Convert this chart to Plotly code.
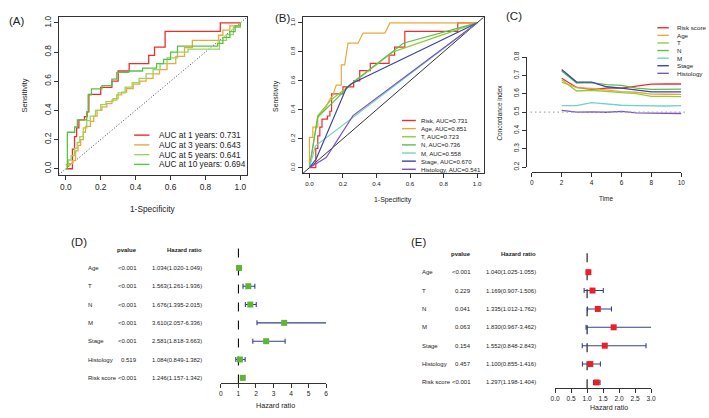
import plotly.graph_objects as go

W, H = 709, 418


def fx(p):
    return p / W


def fy(p):
    return 1 - p / H


FONT = "Liberation Sans, Arial, sans-serif"
TXT = "#222222"

# ---------------- Panel A : time-dependent ROC (step curves) ----------------
roc_1y_fpr = [0, 0.038, 0.05, 0.062, 0.075, 0.107, 0.122, 0.132, 0.2, 0.264, 0.3, 0.363, 0.475, 0.508, 0.569, 0.885, 1.0]
roc_1y_tpr = [0, 0.134, 0.22, 0.28, 0.335, 0.357, 0.39, 0.51, 0.558, 0.6, 0.67, 0.72, 0.777, 0.833, 0.942, 1.0, 1.0]

roc_3y_fpr = [0, 0.02, 0.038, 0.056, 0.07, 0.085, 0.1, 0.113, 0.141, 0.16, 0.179, 0.207, 0.235, 0.264, 0.292,
              0.32, 0.348, 0.386, 0.424, 0.46, 0.5, 0.537, 0.58, 0.63, 0.68, 0.725, 0.876, 0.9, 0.94, 1.0]
roc_3y_tpr = [0.02, 0.035, 0.056, 0.123, 0.16, 0.2, 0.25, 0.29, 0.324, 0.36, 0.4, 0.424, 0.446, 0.47, 0.507,
              0.525, 0.55, 0.58, 0.6, 0.62, 0.65, 0.68, 0.72, 0.77, 0.83, 0.88, 0.915, 0.95, 0.98, 1.0]

roc_5y_fpr = [0, 0.015, 0.03, 0.05, 0.065, 0.08, 0.1, 0.12, 0.14, 0.17, 0.2, 0.23, 0.27, 0.3, 0.34, 0.38,
              0.42, 0.46, 0.5, 0.54, 0.58, 0.64, 0.7, 0.88, 0.92, 0.96, 1.0]
roc_5y_tpr = [0.03, 0.06, 0.09, 0.14, 0.18, 0.22, 0.28, 0.33, 0.36, 0.4, 0.44, 0.46, 0.48, 0.52, 0.56, 0.59,
              0.62, 0.65, 0.68, 0.72, 0.76, 0.8, 0.82, 0.88, 0.92, 0.97, 1.0]

roc_10y_fpr = [0, 0.009, 0.051, 0.066, 0.12, 0.128, 0.147, 0.207, 0.264, 0.292, 0.36, 0.44, 0.52, 0.56, 0.6,
               0.64, 0.87, 0.9, 0.94, 0.97, 1.0]
roc_10y_tpr = [0, 0.25, 0.286, 0.335, 0.39, 0.507, 0.547, 0.57, 0.614, 0.66, 0.67, 0.69, 0.72, 0.75, 0.8,
               0.84, 0.86, 0.9, 0.94, 0.98, 1.0]

a_labels = ["AUC at 1 years: 0.731", "AUC at 3 years: 0.643", "AUC at 5 years: 0.641", "AUC at 10 years: 0.694"]
a_colors = ["#EE2C2C", "#EBA83A", "#9BD35F", "#57C245"]

# ---------------- Panel B : ROC of clinical factors ----------------
risk_fpr = roc_1y_fpr
risk_tpr = roc_1y_tpr
age_fpr = [0, 0, 0.02, 0.02, 0.05, 0.05, 0.1, 0.12, 0.14, 0.16, 0.19, 0.19, 0.21, 0.22, 0.23, 0.29, 0.32, 0.45, 0.48, 1.0]
age_tpr = [0, 0.21, 0.21, 0.28, 0.28, 0.35, 0.42, 0.47, 0.5, 0.57, 0.57, 0.71, 0.71, 0.78, 0.86, 0.86, 0.93, 0.93, 1.0, 1.0]
t_fpr = [0, 0.05, 0.13, 0.5, 1.0]
t_tpr = [0, 0.36, 0.47, 0.8, 1.0]
n_fpr = [0, 0.05, 0.27, 0.56, 1.0]
n_tpr = [0, 0.35, 0.6, 0.86, 1.0]
m_fpr = [0, 0.035, 1.0]
m_tpr = [0, 0.15, 1.0]
stage_fpr = [0, 0.04, 0.22, 0.25, 1.0]
stage_tpr = [0, 0.06, 0.55, 0.58, 1.0]
hist_fpr = [0, 0.1, 0.26, 1.0]
hist_tpr = [0, 0.07, 0.36, 1.0]

b_labels = ["Risk, AUC=0.731", "Age, AUC=0.851", "T, AUC=0.723", "N, AUC=0.736", "M, AUC=0.558",
            "Stage, AUC=0.670", "Histology, AUC=0.541"]
b_colors = ["#EE2C2C", "#EBA83A", "#8CCF3E", "#5FBE4C", "#72D3C4", "#3A46A6", "#7C52C6"]

# ---------------- Panel C : concordance index over time ----------------
c_time = [2, 3, 4, 5, 6, 7, 8, 9, 10]
c_risk = [0.684, 0.634, 0.624, 0.630, 0.631, 0.641, 0.652, 0.653, 0.653]
c_age = [0.663, 0.633, 0.629, 0.620, 0.611, 0.608, 0.598, 0.597, 0.596]
c_t = [0.676, 0.615, 0.619, 0.611, 0.606, 0.601, 0.585, 0.585, 0.584]
c_n = [0.724, 0.658, 0.661, 0.650, 0.646, 0.630, 0.624, 0.624, 0.625]
c_m = [0.535, 0.535, 0.551, 0.543, 0.537, 0.535, 0.533, 0.533, 0.535]
c_stage = [0.732, 0.664, 0.663, 0.638, 0.631, 0.620, 0.610, 0.610, 0.610]
c_hist = [0.509, 0.500, 0.501, 0.499, 0.504, 0.496, 0.494, 0.494, 0.492]
c_labels = ["Risk score", "Age", "T", "N", "M", "Stage", "Histology"]
c_colors = b_colors
c_ref = 0.5

# ---------------- Panels D / E : forest plots ----------------
f_labels = ["Age", "T", "N", "M", "Stage", "Histology", "Risk score"]
uni_p = ["<0.001", "<0.001", "<0.001", "<0.001", "<0.001", "0.519", "<0.001"]
uni_hr = [1.034, 1.563, 1.676, 3.610, 2.581, 1.084, 1.246]
uni_lo = [1.020, 1.261, 1.395, 2.057, 1.818, 0.849, 1.157]
uni_hi = [1.049, 1.936, 2.015, 6.336, 3.663, 1.382, 1.342]

multi_p = ["<0.001", "0.229", "0.041", "0.063", "0.154", "0.457", "<0.001"]
multi_hr = [1.040, 1.169, 1.335, 1.830, 1.552, 1.100, 1.297]
multi_lo = [1.025, 0.907, 1.012, 0.967, 0.848, 0.855, 1.198]
multi_hi = [1.055, 1.506, 1.762, 3.462, 2.843, 1.416, 1.404]

d_ticks = [0, 1, 2, 3, 4, 5, 6]
e_ticks = [0, 0.5, 1.0, 1.5, 2.0, 2.5, 3.0]

fig = go.Figure()

# ---- A traces
for fpr, tpr, col in zip([roc_1y_fpr, roc_3y_fpr, roc_5y_fpr, roc_10y_fpr],
                         [roc_1y_tpr, roc_3y_tpr, roc_5y_tpr, roc_10y_tpr], a_colors):
    fig.add_trace(go.Scatter(x=fpr, y=tpr, mode="lines", line=dict(color=col, width=1.3, shape="hv"),
                             xaxis="x", yaxis="y", showlegend=False, hoverinfo="skip"))

# ---- B traces
b_data = [(risk_fpr, risk_tpr, "hv"), (age_fpr, age_tpr, "linear"), (t_fpr, t_tpr, "linear"),
          (n_fpr, n_tpr, "linear"), (m_fpr, m_tpr, "linear"), (stage_fpr, stage_tpr, "linear"),
          (hist_fpr, hist_tpr, "linear")]
for (fpr, tpr, shp), col in zip(b_data, b_colors):
    fig.add_trace(go.Scatter(x=fpr, y=tpr, mode="lines", line=dict(color=col, width=1.2, shape=shp),
                             xaxis="x2", yaxis="y2", showlegend=False, hoverinfo="skip"))

# ---- C traces
for ys, col in zip([c_risk, c_age, c_t, c_n, c_m, c_stage, c_hist], c_colors):
    fig.add_trace(go.Scatter(x=c_time, y=ys, mode="lines", line=dict(color=col, width=1.3),
                             xaxis="x3", yaxis="y3", showlegend=False, hoverinfo="skip"))

# ---- D / E forest traces
rows = list(range(len(f_labels)))
for hr, lo, hi, col, xa, ya in [(uni_hr, uni_lo, uni_hi, "#5DB632", "x4", "y4"),
                                (multi_hr, multi_lo, multi_hi, "#EC1F26", "x5", "y5")]:
    fig.add_trace(go.Scatter(
        x=hr, y=rows, mode="markers",
        marker=dict(symbol="square", size=6, color=col, line=dict(width=0)),
        error_x=dict(type="data", symmetric=False,
                     array=[h - m for h, m in zip(hi, hr)],
                     arrayminus=[m - l for m, l in zip(hr, lo)],
                     color="#34408A", thickness=1.1, width=2.5),
        cliponaxis=False, xaxis=xa, yaxis=ya, showlegend=False, hoverinfo="skip"))

shapes = []
annotations = []

roc_range = [-0.04, 1.04]
# diagonals
shapes.append(dict(type="line", xref="x", yref="y", x0=roc_range[0], y0=roc_range[0], x1=roc_range[1],
                   y1=roc_range[1], line=dict(color="#444444", width=1, dash="1px,2px"), layer="below"))
shapes.append(dict(type="line", xref="x2", yref="y2", x0=roc_range[0], y0=roc_range[0], x1=roc_range[1],
                   y1=roc_range[1], line=dict(color="#333333", width=1), layer="below"))
# C reference line
shapes.append(dict(type="line", xref="paper", yref="y3", x0=fx(533), x1=fx(692), y0=c_ref, y1=c_ref,
                   line=dict(color="#aaaaaa", width=1.2, dash="1.5px,3px")))
# forest reference lines at HR = 1
shapes.append(dict(type="line", xref="x4", yref="y4 domain", x0=1, x1=1, y0=0, y1=1,
                   line=dict(color="#111111", width=1.1, dash="dash"), layer="below"))
shapes.append(dict(type="line", xref="x5", yref="y5 domain", x0=1, x1=1, y0=0, y1=1,
                   line=dict(color="#111111", width=1.1, dash="dash"), layer="below"))


def legend(labels, colors, x0, x1, xt, ytop, step, size):
    for i, (lab, col) in enumerate(zip(labels, colors)):
        yy = fy(ytop + step * i)
        shapes.append(dict(type="line", xref="paper", yref="paper", x0=fx(x0), x1=fx(x1), y0=yy, y1=yy,
                           line=dict(color=col, width=1.4)))
        annotations.append(dict(x=fx(xt), y=yy, xref="paper", yref="paper", text=lab, showarrow=False,
                                xanchor="left", yanchor="middle", font=dict(size=size, color=TXT, family=FONT)))


legend(a_labels, a_colors, 131, 146.5, 154, 132.3, 10, 8.3)
legend(b_labels, b_colors, 402.7, 416.7, 420, 117.3, 8.33, 6.1)
legend(c_labels, c_colors, 661.7, 673.3, 679.3, 22.3, 7.78, 6.2)


def txt(x, y, s, size, anchor="center", angle=0, bold=False, xref="paper", yref="paper"):
    annotations.append(dict(x=x, y=y, xref=xref, yref=yref, text=("<b>%s</b>" % s) if bold else s,
                            showarrow=False, xanchor=anchor, yanchor="middle", textangle=angle,
                            font=dict(size=size, color=TXT, family=FONT)))


# panel letters
txt(fx(2), fy(15), "(A)", 11.5, "left")
txt(fx(271.5), fy(12), "(B)", 11.5, "left")
txt(fx(506), fy(10), "(C)", 11.5, "left")
txt(fx(65), fy(242), "(D)", 11.5, "left")
txt(fx(410), fy(242), "(E)", 11.5, "left")

# axis titles
txt(fx(150), fy(208), "1-Specificity", 8.3)
txt(fx(20), fy(92), "Sensitivity", 7.6, angle=-90)
txt(fx(394), fy(199), "1-Specificity", 6.9)
txt(fx(275), fy(92), "Sensitivity", 6.9, angle=-90)
txt(fx(610), fy(197), "Time", 6.4)
txt(fx(501.5), fy(108.7), "Concordance index", 6.4, angle=-90)
txt(fx(274), fy(409), "Hazard ratio", 7.2)
txt(fx(613), fy(411), "Hazard ratio", 7.0)

# forest tables
for ya, xl, xp, xh, pv, hr, lo, hi in [("y4", 81.7, 136, 201.7, uni_p, uni_hr, uni_lo, uni_hi),
                                        ("y5", 420.7, 475, 540.3, multi_p, multi_hr, multi_lo, multi_hi)]:
    txt(fx(xp), -1, "pvalue", 6.0, "right", bold=True, yref=ya)
    txt(fx(xh), -1, "Hazard ratio", 6.0, "right", bold=True, yref=ya)
    for i, lab in enumerate(f_labels):
        txt(fx(xl), i, lab, 6.0, "left", yref=ya)
        txt(fx(xp), i, pv[i], 6.0, "right", yref=ya)
        txt(fx(xh), i, "%.3f(%.3f-%.3f)" % (hr[i], lo[i], hi[i]), 5.9, "right", yref=ya)

AX = "#333333"


def roc_axis(dom, tsize, label_axis):
    d = dict(domain=dom, range=roc_range, tickmode="array", tickvals=[0, 0.2, 0.4, 0.6, 0.8, 1.0],
             ticktext=["0.0", "0.2", "0.4", "0.6", "0.8", "1.0"], ticks="outside", ticklen=4, tickwidth=1,
             tickcolor=AX, showline=True, linecolor=AX, linewidth=1, mirror=True, showgrid=False,
             zeroline=False, tickfont=dict(size=tsize, color=TXT, family=FONT))
    if label_axis == "y":
        d["tickangle"] = -90
    return d


layout = dict(
    width=W, height=H, margin=dict(l=0, r=0, t=0, b=0), paper_bgcolor="white", plot_bgcolor="white",
    font=dict(family=FONT, color=TXT), showlegend=False,
    xaxis=dict(roc_axis([fx(54.6), fx(245.8)], 8.3, "x"), anchor="y"),
    yaxis=dict(roc_axis([fy(172.7), fy(11.3)], 8.3, "y"), anchor="x"),
    xaxis2=dict(roc_axis([fx(302), fx(485.6)], 6.2, "x"), anchor="y2"),
    yaxis2=dict(roc_axis([fy(171.6), fy(11.4)], 6.2, "y"), anchor="x2"),
    xaxis3=dict(domain=[fx(534.3), fx(686)], range=[0, 10], tickmode="array", tickvals=[0, 2, 4, 6, 8, 10],
                ticks="outside", ticklen=4, tickcolor=AX, showline=True, linecolor=AX, linewidth=1,
                showgrid=False, zeroline=False, anchor="free", position=fy(170),
                tickfont=dict(size=6.5, color=TXT, family=FONT)),
    yaxis3=dict(domain=[fy(165), fy(52.3)], range=[0.2, 0.8], tickmode="array",
                tickvals=[0.2, 0.3, 0.4, 0.5, 0.6, 0.7, 0.8],
                ticktext=["0.2", "0.3", "0.4", "0.5", "0.6", "0.7", "0.8"], tickangle=-90,
                ticks="outside", ticklen=4, tickcolor=AX, showline=True, linecolor=AX, linewidth=1,
                showgrid=False, zeroline=False, anchor="free", position=fx(528),
                tickfont=dict(size=6.5, color=TXT, family=FONT)),
    xaxis4=dict(domain=[fx(219), fx(325.7)], range=[0, 6], tickmode="array", tickvals=d_ticks,
                ticks="outside", ticklen=4, tickcolor=AX, showline=True, linecolor=AX, linewidth=1,
                showgrid=False, zeroline=False, anchor="free", position=fy(386.7),
                tickfont=dict(size=6.6, color=TXT, family=FONT)),
    yaxis4=dict(domain=[fy(386.7), fy(243)], range=[6.305, -1.347], visible=False, anchor="x4"),
    xaxis5=dict(domain=[fx(558), fx(655.3)], range=[0, 3], tickmode="array", tickvals=e_ticks,
                ticktext=["%.1f" % v for v in e_ticks],
                ticks="outside", ticklen=4, tickcolor=AX, showline=True, linecolor=AX, linewidth=1,
                showgrid=False, zeroline=False, anchor="free", position=fy(391.7),
                tickfont=dict(size=6.6, color=TXT, family=FONT)),
    yaxis5=dict(domain=[fy(391.7), fy(248.3)], range=[6.32, -1.296], visible=False, anchor="x5"),
    shapes=shapes, annotations=annotations,
)
fig.update_layout(**layout)
fig.write_html("out.html", config={"displayModeBar": False, "staticPlot": True},
               post_script="document.body.style.margin='0';document.body.style.overflow='hidden';")
